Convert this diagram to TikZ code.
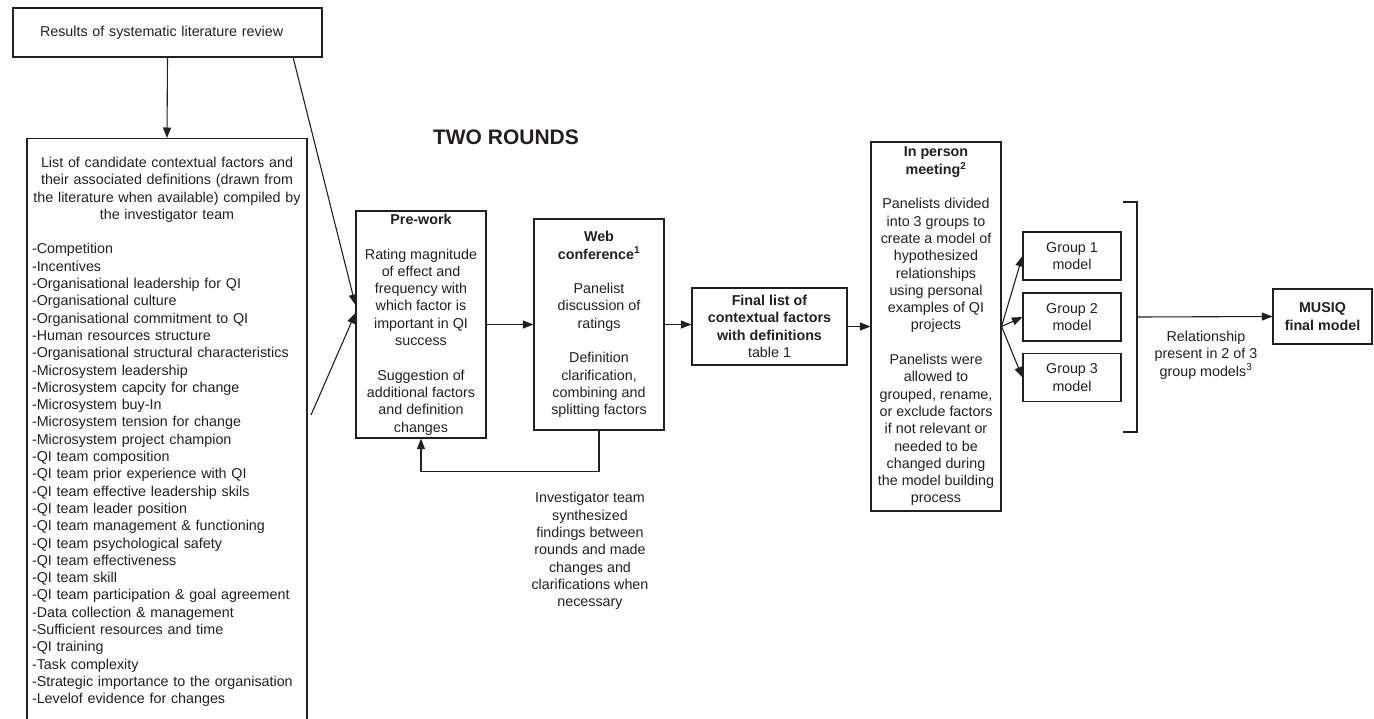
\documentclass[tikz,border=0pt]{standalone}
\usepackage{fontspec}
\setmainfont{Liberation Sans}
\usetikzlibrary{arrows.meta}
\definecolor{ink}{RGB}{35,31,32}

\begin{document}
\begin{tikzpicture}[x=1pt, y=-1pt, line width=1.1pt, color=ink,
  font=\fontsize{14.3}{17.3}\selectfont,
  box/.style={draw, align=center, inner sep=3pt},
  arr/.style={-{Triangle[length=10.5pt, width=8pt]}},
]
  \useasboundingbox (0,0) rectangle (1374,718);
  \clip (0,0) rectangle (1374,718);
  % 左侧：文献综述与候选因素列表
  \node[draw, minimum width=309pt, minimum height=49pt, inner xsep=27pt,
    text width=255pt, align=left] (review) at (167.5,32.5)
    {Results of systematic literature review};
  \node[draw, anchor=north, text width=270pt, inner xsep=5pt, inner ysep=18.5pt]
    (cand) at (167,138) {\centering
    List of candidate contextual factors and\\their associated definitions (drawn from\\the literature when available) compiled by\\the investigator team\par
    \raggedright\vspace{17.3pt}
    -Competition\\
    -Incentives\\
    -Organisational leadership for QI\\
    -Organisational culture\\
    -Organisational commitment to QI\\
    -Human resources structure\\
    -Organisational structural characteristics\\
    -Microsystem leadership\\
    -Microsystem capcity for change\\
    -Microsystem buy-In\\
    -Microsystem tension for change\\
    -Microsystem project champion\\
    -QI team composition\\
    -QI team prior experience with QI\\
    -QI team effective leadership skils\\
    -QI team leader position\\
    -QI team management \& functioning\\
    -QI team psychological safety\\
    -QI team effectiveness\\
    -QI team skill\\
    -QI team participation \& goal agreement\\
    -Data collection \& management\\
    -Sufficient resources and time\\
    -QI training\\
    -Task complexity\\
    -Strategic importance to the organisation\\
    -Levelof evidence for changes\par
    \vspace*{40pt}};
  \coordinate (d1) at (293,57);
  \coordinate (d2) at (311,415);

  \node[font=\fontsize{21}{24}\selectfont\bfseries] (rounds) at (506,137) {TWO ROUNDS};

  % 两轮：预备工作与网络会议
  \node[box, minimum width=130pt, minimum height=227pt] (prework) at (421,324.5)
    {\textbf{Pre-work}\\[17.3pt]Rating magnitude\\of effect and\\frequency with\\which factor is\\important in QI\\success\\[17.3pt]Suggestion of\\additional factors\\and definition\\changes};
  \node[box, minimum width=130pt, minimum height=211pt] (web) at (599,324.5)
    {\textbf{Web}\\\textbf{conference\textsuperscript{1}}\\[17.3pt]Panelist\\discussion of\\ratings\\[17.3pt]Definition\\clarification,\\combining and\\splitting factors};
  \node[align=center] (synth) at (590,551)
    {Investigator team\\synthesized\\findings between\\rounds and made\\changes and\\clarifications when\\necessary};

  \node[box, minimum width=155pt, minimum height=77pt] (final) at (769.5,326.5)
    {\textbf{Final list of}\\\textbf{contextual factors}\\\textbf{with definitions}\\table 1};
  \node[box, minimum width=130pt, minimum height=369pt] (meet) at (936,326.5)
    {\textbf{In person}\\\textbf{meeting\textsuperscript{2}}\\[17.3pt]Panelists divided\\into 3 groups to\\create a model of\\hypothesized\\relationships\\using personal\\examples of QI\\projects\\[17.3pt]Panelists were\\allowed to\\grouped, rename,\\or exclude factors\\if not relevant or\\needed to be\\changed during\\the model building\\process};

  \foreach \i/\y in {1/256,2/317,3/377.5}
    \node[box, minimum width=98pt, minimum height=48pt] (g\i) at (1072,\y) {Group \i\\model};

  % 括号与最终模型
  \coordinate (brtop) at (1123,202);
  \coordinate (brbot) at (1123,432);
  \coordinate (brmid) at (1137,317);
  \node[box, minimum width=99pt, minimum height=55pt] (musiq) at (1322.5,316.5)
    {\textbf{MUSIQ}\\\textbf{final model}};
  \node[align=center] (rel) at (1206,355)
    {Relationship\\present in 2 of 3\\group models\textsuperscript{3}};

  \draw[arr] (review.south) -- (cand.north);
  \draw[arr] (d1) -- ([yshift=19.5pt]prework.west);
  \draw[arr] (d2) -- ([yshift=11.5pt]prework.west);
  \draw[arr] (prework.east) -- (web.west);
  \draw[arr] (web.south) -- ++(0,41) -| (prework.south);
  \draw[arr] (web.east) -- (web.east -| final.west);
  \draw[arr] (final.east) -- (final.east -| meet.west);
  \foreach \i in {1,2,3} \draw[arr] (meet.east) -- (g\i.west);
  \draw (brtop) -- (brtop -| brmid) -- (brbot -| brmid) -- (brbot);
  \draw[arr] (brmid) -- (musiq.west);
\end{tikzpicture}
\end{document}
